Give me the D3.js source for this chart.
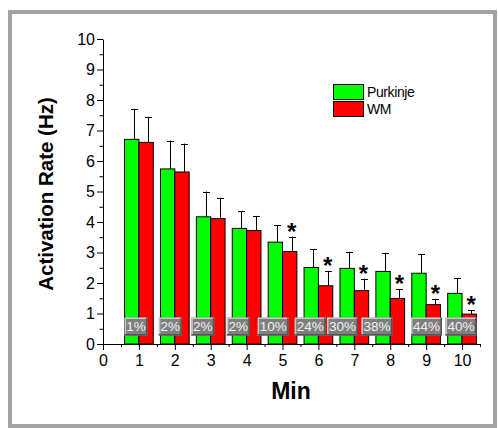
<!DOCTYPE html>
<html>
<head>
<meta charset="utf-8">
<script src="https://cdn.jsdelivr.net/npm/d3@7"></script>
<style>
  body { margin:0; background:#fff; }
  svg text { font-family: "Liberation Sans", Arial, sans-serif; }
</style>
</head>
<body>
<div id="chart-area"></div>
<script>
// data
const minutes = [1,2,3,4,5,6,7,8,9,10];
const purkinje = [6.71,5.74,4.17,3.79,3.34,2.51,2.48,2.38,2.32,1.66];
const purkinjeErr = [0.98,0.93,0.83,0.56,0.56,0.59,0.54,0.59,0.62,0.49];
const wm = [6.61,5.64,4.11,3.72,3.03,1.91,1.75,1.49,1.29,0.98];
const wmErr = [0.83,0.93,0.68,0.48,0.49,0.49,0.39,0.31,0.19,0.12];
const signif = [false,false,false,false,true,true,true,true,true,true];
const pctLabels = ["1%","2%","2%","2%","10%","24%","30%","38%","44%","40%"];
const pctAt = [0.92,1.875,2.78,3.77,4.74,5.77,6.67,7.63,9.01,9.97]; // annotation anchors (Min units)
const xTicks = [0,1,2,3,4,5,6,7,8,9,10];
const yTicks = [0,1,2,3,4,5,6,7,8,9,10];

const W = 498, H = 428;
const margin = {top:39, left:103},
  width = 377, height = 305;
const FONT = "Liberation Sans, Arial, sans-serif";

const svg = d3.select("#chart-area")
  .append("svg")
  .attr("width", W)
  .attr("height", H);

// outer frame
svg.append("rect")
  .attr("x", 10).attr("y", 12)
  .attr("width", 485).attr("height", 414)
  .attr("fill", "none")
  .attr("stroke", "#a3a3a3")
  .attr("stroke-width", 4);

const g = svg.append("g")
  .attr("transform", "translate("+ margin.left +","+ margin.top +")");

const x = d3.scaleLinear().domain([0, 10.5]).range([0, width]);
const y = d3.scaleLinear().domain([0, 10]).range([height, 0]);
const bw = x(0.4) - x(0);

// bars
const bars = g.append("g");
bars.selectAll(".b_p").data(minutes).enter().append("rect")
  .attr("x", (d,i) => x(d) - bw)
  .attr("y", (d,i) => y(purkinje[i]))
  .attr("width", bw)
  .attr("height", (d,i) => y(0) - y(purkinje[i]))
  .attr("fill", "#00ff00")
  .attr("stroke", "#000")
  .attr("stroke-width", 1);
bars.selectAll(".b_w").data(minutes).enter().append("rect")
  .attr("x", d => x(d))
  .attr("y", (d,i) => y(wm[i]))
  .attr("width", bw)
  .attr("height", (d,i) => y(0) - y(wm[i]))
  .attr("fill", "#ff0000")
  .attr("stroke", "#000")
  .attr("stroke-width", 1);

// error bars
function errBars(vals, errs, off) {
  const eg = g.append("g").attr("stroke", "#000").attr("stroke-width", 1);
  minutes.forEach((m, i) => {
    const cx = Math.round(x(m) + off) + 0.5;
    eg.append("line")
      .attr("x1", cx).attr("x2", cx)
      .attr("y1", y(vals[i])).attr("y2", y(vals[i] + errs[i]));
    eg.append("line")
      .attr("x1", cx - 3.5).attr("x2", cx + 3.5)
      .attr("y1", Math.round(y(vals[i] + errs[i])) + 0.5)
      .attr("y2", Math.round(y(vals[i] + errs[i])) + 0.5);
  });
}
errBars(purkinje, purkinjeErr, -bw/2 + 2);
errBars(wm, wmErr, bw/2 + 2);

// significance stars
g.selectAll(".star").data(minutes.filter((d,i) => signif[i])).enter().append("text")
  .attr("x", d => x(d) + bw/2 + 2)
  .attr("y", d => { const i = minutes.indexOf(d); return y(wm[i] + wmErr[i]) + 3; })
  .attr("text-anchor", "middle")
  .attr("font-family", FONT)
  .attr("font-size", "24px")
  .attr("font-weight", "bold")
  .text("*");

// percentage tags
const tags = g.selectAll(".tag").data(pctLabels).enter().append("g")
  .attr("transform", (d,i) => "translate(" + x(pctAt[i]) + "," + y(0.57) + ")");
tags.each(function(d) {
  const w = d.length > 2 ? 31 : 23, h = 18;
  const t = d3.select(this);
  t.append("rect")
    .attr("x", -w/2).attr("y", -h/2).attr("width", w).attr("height", h)
    .attr("fill", "#7f7f7f");
  t.append("path")
    .attr("d", "M" + (-w/2+0.75) + "," + (h/2) + "V" + (-h/2+0.75) + "H" + (w/2))
    .attr("fill", "none").attr("stroke", "#c8c8c8").attr("stroke-width", 1.5);
  t.append("path")
    .attr("d", "M" + (-w/2) + "," + (h/2-0.75) + "H" + (w/2-0.75) + "V" + (-h/2))
    .attr("fill", "none").attr("stroke", "#555").attr("stroke-width", 1.5);
  t.append("text")
    .attr("text-anchor", "middle")
    .attr("dy", "0.36em")
    .attr("font-family", FONT)
    .attr("font-size", "13.5px")
    .attr("fill", "#f2f2f2")
    .text(d);
});

// axes
const xMinor = d3.range(0.5, 10.6, 1);
const yMinor = d3.range(0.5, 10, 1);

g.append("g")
  .attr("transform", "translate(0," + height + ")")
  .call(d3.axisBottom(x).tickValues(xMinor).tickSize(3).tickSizeOuter(0).tickFormat(""))
  .call(a => a.select(".domain").remove());
g.append("g")
  .call(d3.axisLeft(y).tickValues(yMinor).tickSize(3.5).tickSizeOuter(0).tickFormat(""))
  .call(a => a.select(".domain").remove());

const xa = g.append("g")
  .attr("transform", "translate(0," + height + ")")
  .call(d3.axisBottom(x).tickValues(xTicks).tickSize(6).tickPadding(5).tickSizeOuter(0));
const ya = g.append("g")
  .call(d3.axisLeft(y).tickValues(yTicks).tickSize(6).tickPadding(2).tickSizeOuter(0));
[xa, ya].forEach(a => {
  a.attr("font-family", FONT);
  a.selectAll("text")
    .attr("font-size", "16px")
    .attr("fill", "#000");
});
g.selectAll(".domain").attr("stroke", "#000");
g.selectAll(".tick line").attr("stroke", "#000");

// labels
g.append("text")
  .attr("x", width / 2 - 0.5)
  .attr("y", height + 55)
  .attr("text-anchor", "middle")
  .attr("font-family", FONT)
  .attr("font-size", "23px")
  .attr("font-weight", "bold")
  .text("Min");

svg.append("text")
  .attr("transform", "translate(53,194) rotate(-90)")
  .attr("text-anchor", "middle")
  .attr("font-family", FONT)
  .attr("font-size", "20.5px")
  .attr("font-weight", "bold")
  .text("Activation Rate (Hz)");

// legend
const series = [{name:"Purkinje", colour:"#00ff00"}, {name:"WM", colour:"#ff0000"}];
const lg = svg.append("g").attr("transform", "translate(333,84)");
series.forEach((s, i) => {
  lg.append("rect")
    .attr("x", 0.5).attr("y", i * 17 + 0.5)
    .attr("width", 30).attr("height", 15)
    .attr("fill", s.colour)
    .attr("stroke", "#000")
    .attr("stroke-width", 1);
  lg.append("text")
    .attr("x", 34).attr("y", i * 17 + 13)
    .attr("font-family", FONT)
    .attr("font-size", "14px")
    .attr("letter-spacing", "-0.4px")
    .text(s.name);
});
</script>
</body>
</html>
